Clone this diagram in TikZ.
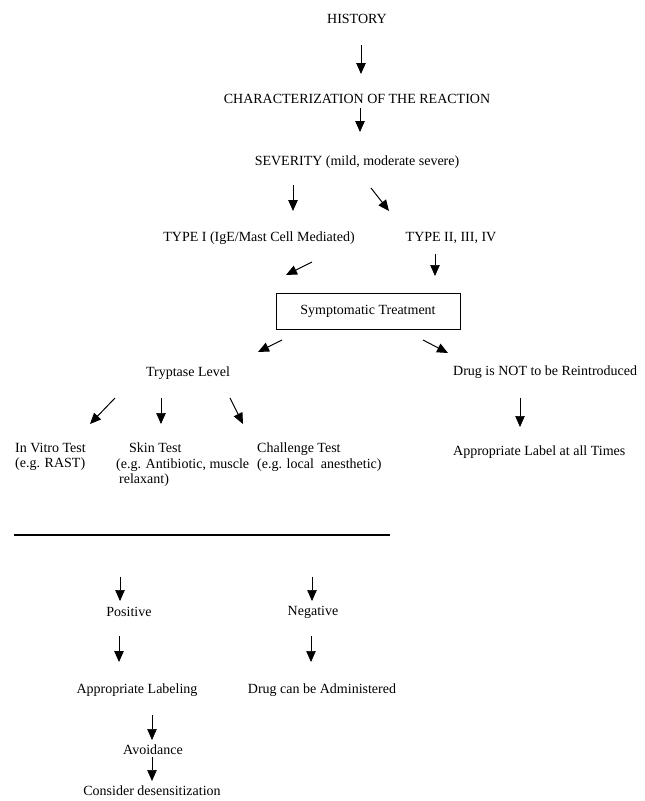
\documentclass[tikz,border=0pt]{standalone}
\usepackage{fontspec}
\setmainfont{Liberation Serif}
\usetikzlibrary{arrows.meta, positioning}
\tikzset{
    lbl/.style={inner sep=0pt, font=\fontsize{14}{15.5}\selectfont},
    note/.style={lbl, align=left, anchor=north west},
    treatbox/.style={lbl, rectangle, draw, line width=0.8pt,
        minimum width=184pt, minimum height=36pt},
    arrow/.style={-{Triangle[length=11pt, width=9.5pt]}, line width=1pt},
    thinarrow/.style={arrow, line width=0.6pt},
    rule/.style={line width=1.1pt},
}

\begin{document}
\begin{tikzpicture}[x=1pt, y=-1pt]
    \useasboundingbox (0,0) rectangle (645,801);
    % upper chain
    \node[lbl] (history) at (357,19) {HISTORY};
    \node[lbl] (charact) at (357,99) {CHARACTERIZATION OF THE REACTION};
    \node[lbl] (severity) at (357,162) {SEVERITY (mild, moderate severe)};
    \node[lbl] (type1) at (259,238) {TYPE I (IgE/Mast Cell Mediated)};
    \node[lbl] (type2) at (451,238) {TYPE II, III, IV};
    \node[treatbox] (treat) at (368,311) {Symptomatic Treatment};
    \node[lbl] (tryptase) at (188,373) {Tryptase Level};
    \node[lbl, anchor=west] (noreintro) at (453,372) {Drug is NOT to be Reintroduced};
    % tests
    \node[note] (invitro) at (15,443) {In Vitro Test\\(e.g. RAST)};
    \node[note] (skin) at (116,443) {\hspace{13pt}Skin Test\\(e.g. Antibiotic, muscle\\\hspace{3pt}relaxant)};
    \node[note] (challenge) at (257,443) {Challenge Test\\(e.g. local\ \ anesthetic)};
    \node[lbl, anchor=west] (label) at (453,452) {Appropriate Label at all Times};
    % results
    \coordinate (ruleL) at (14,535);
    \coordinate (ruleR) at (390,535);
    \node[lbl] (positive) at (129,612) {Positive};
    \node[lbl] (negative) at (313,612) {Negative};
    \node[lbl] (labeling) at (137,690) {Appropriate Labeling};
    \node[lbl] (administer) at (322,690) {Drug can be Administered};
    \node[lbl] (avoid) at (153,750) {Avoidance};
    \node[lbl] (desens) at (152,791) {Consider desensitization};

    % arrow ends
    \coordinate (h1) at (361,45);   \coordinate (h2) at (361,74);
    \coordinate (c1) at (360,108);  \coordinate (c2) at (360,132);
    \coordinate (s1) at (293,185);  \coordinate (s2) at (293,211);
    \coordinate (d1) at (371,188);  \coordinate (d2) at (389,211);
    \coordinate (t1) at (312,262);  \coordinate (t2) at (286,275);
    \coordinate (u1) at (435,254);  \coordinate (u2) at (435,276);
    \coordinate (l1) at (282,340);  \coordinate (l2) at (258,352);
    \coordinate (r1) at (423,340);  \coordinate (r2) at (448,353);
    \coordinate (p1) at (115,398);  \coordinate (p2) at (90,424);
    \coordinate (q1) at (161,398);  \coordinate (q2) at (161,424);
    \coordinate (w1) at (230,398);  \coordinate (w2) at (243,424);
    \coordinate (n1) at (520,398);  \coordinate (n2) at (520,427);
    \coordinate (a1) at (120,577);  \coordinate (a2) at (120,601);
    \coordinate (b1) at (312,577);  \coordinate (b2) at (312,601);
    \coordinate (a3) at (119,636);  \coordinate (a4) at (119,662);
    \coordinate (b3) at (311,636);  \coordinate (b4) at (311,662);
    \coordinate (v1) at (152,715);  \coordinate (v2) at (152,740);
    \coordinate (v3) at (152,757);  \coordinate (v4) at (152,781);

    \draw[arrow] (h1) -- (h2);
    \draw[arrow] (c1) -- (c2);
    \draw[arrow] (s1) -- (s2);
    \draw[arrow] (d1) -- (d2);
    \draw[arrow] (t1) -- (t2);
    \draw[thinarrow] (u1) -- (u2);
    \draw[arrow] (l1) -- (l2);
    \draw[arrow] (r1) -- (r2);
    \draw[arrow] (p1) -- (p2);
    \draw[thinarrow] (q1) -- (q2);
    \draw[arrow] (w1) -- (w2);
    \draw[thinarrow] (n1) -- (n2);
    \draw[rule] (ruleL) -- (ruleR);
    \draw[thinarrow] (a1) -- (a2);
    \draw[thinarrow] (b1) -- (b2);
    \draw[arrow] (a3) -- (a4);
    \draw[thinarrow] (b3) -- (b4);
    \draw[thinarrow] (v1) -- (v2);
    \draw[thinarrow] (v3) -- (v4);
\end{tikzpicture}
\end{document}
